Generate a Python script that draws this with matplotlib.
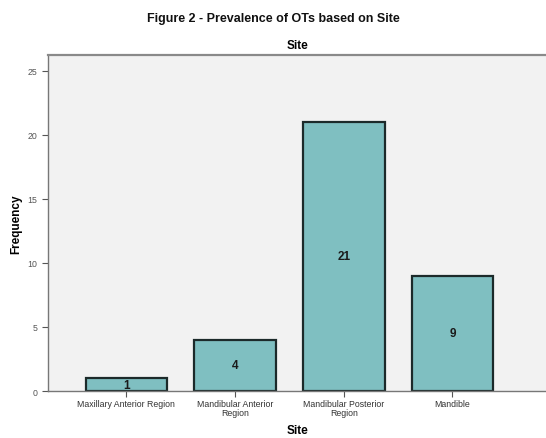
import matplotlib
matplotlib.use("Agg")
import matplotlib.pyplot as plt

plt.rcParams['font.family'] = ['Liberation Sans', 'DejaVu Sans']

# Frequency of OTs per site
sites = ['Maxillary Anterior Region', 'Mandibular Anterior\nRegion',
         'Mandibular Posterior\nRegion', 'Mandible']
counts = [1, 4, 21, 9]
yticks = [0, 5, 10, 15, 20, 25]

fig = plt.figure(figsize=(5.46, 4.39), dpi=100)
ax = fig.add_axes([0.088, 0.107, 0.912, 0.765])
ax.set_facecolor('#f2f2f2')

x = list(range(len(sites)))
ax.bar(x, counts, width=0.75, color='#7fbfc1', edgecolor='#1c2a2a', linewidth=1.6, zorder=2)

# value labels in the middle of each bar
for xi, c in zip(x, counts):
    ax.text(xi, c / 2, str(c), ha='center', va='center', fontsize=8.5,
            fontweight='bold', color='#1a1a1a', zorder=3)

ax.set_xlim(-0.72, 3.86)
ax.set_ylim(0, 26.2)
ax.set_yticks(yticks)
ax.set_xticks(x)
ax.set_xticklabels(sites, fontsize=6.3, color='#333333', linespacing=0.9)
ax.tick_params(axis='y', labelsize=6.3, colors='#555555', length=4, width=0.8)
ax.tick_params(axis='x', length=4, width=0.8, colors='#555555', labelcolor='#333333', pad=2)

ax.spines['right'].set_visible(False)
ax.spines['top'].set_color('#8a8a8a')
ax.spines['top'].set_linewidth(1.6)
for side in ['left', 'bottom']:
    ax.spines[side].set_color('#777777')
    ax.spines[side].set_linewidth(1.0)

ax.set_xlabel('Site', fontsize=8.5, fontweight='bold', labelpad=5)
ax.set_ylabel('Frequency', fontsize=8.5, fontweight='bold', labelpad=4)
ax.set_title('Site', fontsize=8.5, fontweight='bold', pad=5)

fig.text(0.5, 0.957, 'Figure 2 - Prevalence of OTs based on Site', ha='center', va='center',
         fontsize=9, fontweight='bold', color='#111111')

fig.savefig('out.png', dpi=100)
